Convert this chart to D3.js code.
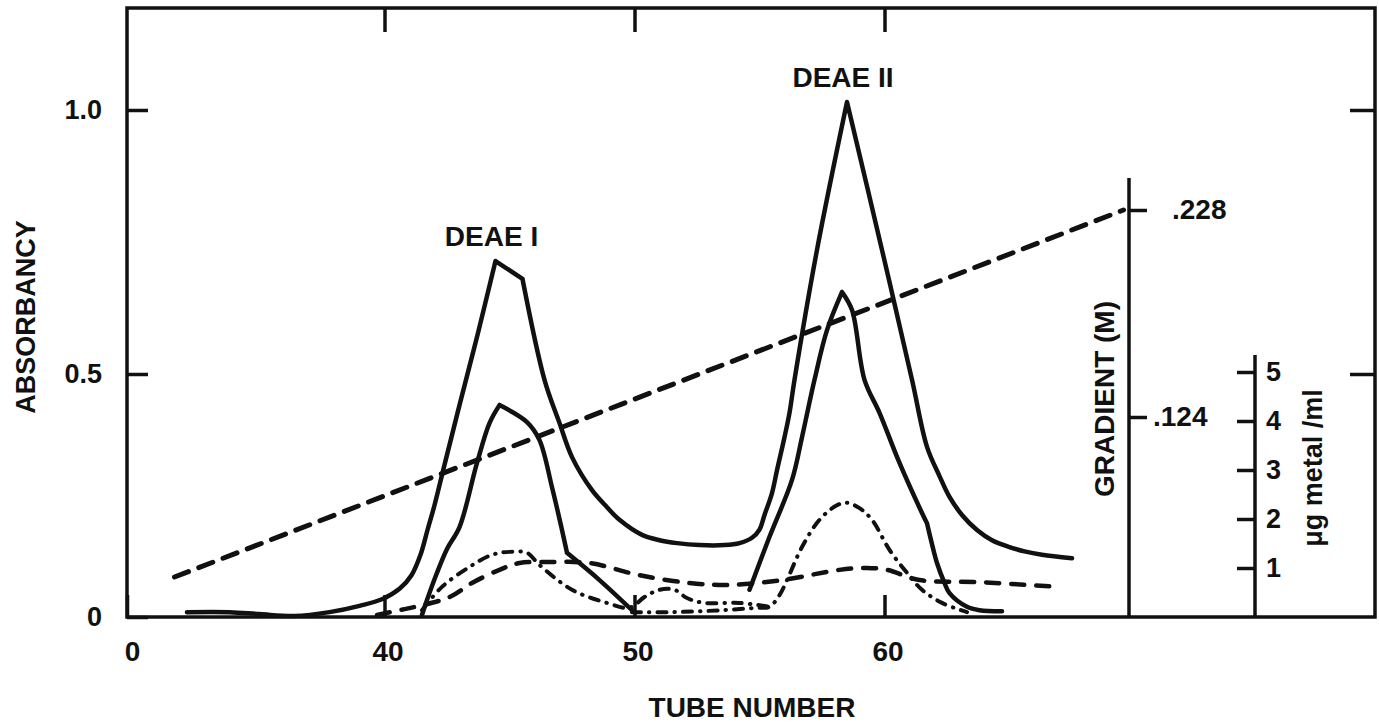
<!DOCTYPE html>
<html>
<head>
<meta charset="utf-8">
<script src="https://cdn.jsdelivr.net/npm/d3@7"></script>
<style>
  body { margin: 0; background: #fff; }
  text { font-family: "Liberation Sans", Arial, Helvetica, sans-serif; font-weight: bold; fill: #111; }
</style>
</head>
<body>
<div id="chart"></div>
<script>
const MARGIN = {left: 127, right: 4, top: 8, bottom: 108};
const WIDTH = 1379 - MARGIN.left - MARGIN.right;
const HEIGHT = 725 - MARGIN.top - MARGIN.bottom;

// broken x axis: the origin is labelled 0
const X_START = 29.7;
const xTickValues = [X_START, 40, 50, 60];
const xTickLabels = ['0', '40', '50', '60'];
const yTickValues = [0, 0.5, 1.0];
const yTickLabels = ['0', '0.5', '1.0'];
const gradientTicks = [0.124, 0.228];
const gradientTickLabels = ['.124', '.228'];
const metalTicks = [1, 2, 3, 4, 5];

// absorbancy, outer solid curve
const outerTube = [32.1, 33.8, 35.0, 36.4, 37.8, 39.0, 39.92, 40.6, 41.08, 41.44, 41.72, 42.0, 42.4, 43.0, 43.72, 44.44, 45.52,
  46.4, 47.0, 47.5, 48.3, 48.9, 49.4, 50.3, 51.0, 51.7, 52.6, 53.6, 54.2, 54.7, 55.0, 55.2, 55.5, 55.7, 56.0, 56.2, 56.4, 57.3, 58.5,
  59.9, 61.1, 61.7, 62.2, 62.6, 63.1, 63.7, 64.3, 65.0, 65.6, 66.3, 67.5];
const outerAbs = [0.010, 0.010, 0.006, 0.002, 0.010, 0.023, 0.037, 0.058, 0.086, 0.128, 0.179, 0.230, 0.313, 0.436, 0.574, 0.714, 0.680,
  0.488, 0.399, 0.329, 0.261, 0.226, 0.200, 0.169, 0.158, 0.152, 0.148, 0.148, 0.152, 0.163, 0.180, 0.210, 0.255, 0.302, 0.370, 0.420, 0.488, 0.735, 1.015,
  0.735, 0.488, 0.350, 0.290, 0.247, 0.210, 0.179, 0.158, 0.144, 0.135, 0.128, 0.121];
const outerCorners = [44.44, 45.52, 58.5];

// absorbancy, inner solid curve (two pieces)
const innerITube = [41.5, 41.7, 42.1, 42.5, 43.0, 43.7, 44.2, 44.6, 45.7, 46.2, 46.7, 47.1, 47.3, 48.6, 49.9];
const innerIAbs = [0.004, 0.035, 0.091, 0.140, 0.185, 0.317, 0.399, 0.436, 0.401, 0.364, 0.267, 0.179, 0.132, 0.076, 0.014];
const innerICorners = [44.6, 47.3];
const innerIITube = [54.6, 55.4, 56.3, 56.7, 57.2, 57.7, 58.3, 58.7, 59.2, 59.8, 60.6, 61.5, 61.7, 61.9, 62.1, 62.4, 62.6, 63.3, 63.8, 64.7];
const innerIIAbs = [0.056, 0.165, 0.282, 0.370, 0.488, 0.583, 0.655, 0.621, 0.488, 0.420, 0.317, 0.214, 0.193, 0.150, 0.111, 0.070, 0.049, 0.021, 0.014, 0.012];
const innerIICorners = [58.3, 61.7];

// metal, dashed curve
const dashTube = [39.7, 40.6, 41.4, 42.6, 43.5, 44.6, 45.4, 46.6, 48.2, 50.2, 52.2, 53.8, 55.9, 58.2, 59.3, 60.1, 61.4, 63.7, 66.9];
const dashAbs = [0.004, 0.014, 0.023, 0.041, 0.070, 0.097, 0.111, 0.113, 0.111, 0.086, 0.070, 0.066, 0.076, 0.097, 0.101, 0.097, 0.076, 0.072, 0.062];

// metal, dash-dot curves
const dotDashITube = [41.5, 42.3, 43.4, 44.3, 45.0, 45.7, 46.2, 47.5, 48.9, 49.8, 50.4, 51.0, 51.6, 52.1, 52.8, 54.2, 55.4];
const dotDashIAbs = [0.014, 0.062, 0.103, 0.128, 0.134, 0.132, 0.107, 0.056, 0.029, 0.019, 0.041, 0.056, 0.056, 0.039, 0.029, 0.029, 0.021];
const dotDashIITube = [49.9, 51.5, 53.5, 54.9, 55.4, 55.8, 56.1, 56.7, 57.4, 58.1, 58.5, 59.0, 59.5, 60.2, 60.9, 61.5, 62.3, 63.3];
const dotDashIIAbs = [0.010, 0.010, 0.014, 0.019, 0.021, 0.045, 0.076, 0.144, 0.200, 0.230, 0.235, 0.224, 0.200, 0.138, 0.091, 0.056, 0.029, 0.010];

// salt gradient (M)
const gradientTube = [31.6, 69.56];
const gradientMolar = [0.0436, 0.228];

const peakLabels = ['DEAE I', 'DEAE II'];
const peakTubes = [44.44, 58.5];
const peakAbs = [0.714, 1.015];

const svg = d3.select('#chart').append('svg')
  .attr('width', WIDTH + MARGIN.left + MARGIN.right)
  .attr('height', HEIGHT + MARGIN.top + MARGIN.bottom);

const g = svg.append('g')
  .attr('transform', `translate(${MARGIN.left},${MARGIN.top})`);

const x = d3.scaleLinear().domain([X_START, X_START + WIDTH / 25]).range([0, WIDTH]);
// hand drawn axis, the 0.5 mark is not half way
const y = d3.scaleLinear().domain([0, 0.5, 1]).range([HEIGHT, 366, 102]);
const yGrad = d3.scaleLinear().domain([0.124, 0.228]).range([409, 202]);
const yMetal = d3.scaleLinear().domain([0, 5]).range([HEIGHT, 364]);

const GRAD_X = 1002;
const METAL_X = 1128;

function styleAxis(sel, size) {
  sel.select('.domain').remove();
  sel.selectAll('line').attr('stroke', '#111').attr('stroke-width', 3.5);
  sel.selectAll('text')
    .attr('font-size', size)
    .attr('font-family', '"Liberation Sans", Arial, Helvetica, sans-serif')
    .attr('font-weight', 'bold')
    .attr('fill', '#111');
}

// bottom axis
g.append('g')
  .attr('transform', `translate(0,${HEIGHT})`)
  .call(d3.axisBottom(x).tickValues(xTickValues).tickFormat((d, i) => xTickLabels[i])
    .tickSizeInner(-22).tickSizeOuter(0).tickPadding(24))
  .call(sel => styleAxis(sel, 28))
  .selectAll('text').attr('dx', d => d === X_START ? 5 : 3);

// top ticks
g.append('g')
  .call(d3.axisTop(x).tickValues(xTickValues.slice(1)).tickFormat('')
    .tickSizeInner(-24).tickSizeOuter(0))
  .call(sel => styleAxis(sel, 28));

// left axis
g.append('g')
  .call(d3.axisLeft(y).tickValues(yTickValues).tickFormat((d, i) => yTickLabels[i])
    .tickSizeInner(-21).tickSizeOuter(0).tickPadding(25))
  .call(sel => styleAxis(sel, 27));

// right ticks
g.append('g')
  .attr('transform', `translate(${WIDTH},0)`)
  .call(d3.axisRight(y).tickValues([0.5, 1.0]).tickFormat('')
    .tickSizeInner(-25).tickSizeOuter(0))
  .call(sel => styleAxis(sel, 27));

// frame
g.append('rect')
  .attr('width', WIDTH).attr('height', HEIGHT)
  .attr('fill', 'none').attr('stroke', '#111').attr('stroke-width', 3.5);

// gradient axis
g.append('line')
  .attr('x1', GRAD_X).attr('x2', GRAD_X).attr('y1', 170).attr('y2', HEIGHT)
  .attr('stroke', '#111').attr('stroke-width', 3.5);
g.append('g')
  .attr('transform', `translate(${GRAD_X},0)`)
  .call(d3.axisRight(yGrad).tickValues(gradientTicks).tickFormat((d, i) => gradientTickLabels[i])
    .tickSize(18).tickPadding(25))
  .call(sel => styleAxis(sel, 28))
  .selectAll('text').attr('x', d => d === 0.124 ? 24 : 43);

// metal axis
g.append('line')
  .attr('x1', METAL_X).attr('x2', METAL_X).attr('y1', 347).attr('y2', HEIGHT)
  .attr('stroke', '#111').attr('stroke-width', 3.5);
g.append('g')
  .attr('transform', `translate(${METAL_X},0)`)
  .call(d3.axisLeft(yMetal).tickValues(metalTicks).tickFormat(d3.format('d')).tickSize(18))
  .call(sel => styleAxis(sel, 27))
  .selectAll('text').attr('x', 11).attr('text-anchor', 'start');

// curves
const smooth = d3.line()
  .x(d => x(d[0]))
  .y(d => y(d[1]))
  .curve(d3.curveCatmullRom.alpha(0.5));

// the pen makes sharp turns at peaks: break the smooth stroke there
function pieces(points, corners) {
  const out = [];
  let cur = [];
  points.forEach(p => {
    cur.push(p);
    if (corners.includes(p[0])) { out.push(cur); cur = [p]; }
  });
  if (cur.length > 1) out.push(cur);
  return out;
}

const curves = [
  {tube: outerTube, val: outerAbs, corners: outerCorners, dash: null, w: 4.5},
  {tube: innerITube, val: innerIAbs, corners: innerICorners, dash: null, w: 4.5},
  {tube: innerIITube, val: innerIIAbs, corners: innerIICorners, dash: null, w: 4.5},
  {tube: dashTube, val: dashAbs, corners: [], dash: '13,12', w: 4.5},
  {tube: dotDashITube, val: dotDashIAbs, corners: [], dash: '9,8,0.5,8', w: 4},
  {tube: dotDashIITube, val: dotDashIIAbs, corners: [], dash: '9,8,0.5,8', w: 4}
];

curves.forEach(c => {
  g.append('path')
    .datum(pieces(d3.zip(c.tube, c.val), c.corners))
    .attr('d', d => d.map(smooth).join(''))
    .attr('fill', 'none')
    .attr('stroke', '#111')
    .attr('stroke-width', c.w)
    .attr('stroke-linecap', 'round')
    .attr('stroke-linejoin', 'round')
    .attr('stroke-dasharray', c.dash);
});

// gradient line
g.append('path')
  .datum(d3.zip(gradientTube, gradientMolar))
  .attr('d', d3.line().x(d => x(d[0])).y(d => yGrad(d[1])))
  .attr('fill', 'none')
  .attr('stroke', '#111')
  .attr('stroke-width', 5)
  .attr('stroke-linecap', 'round')
  .attr('stroke-dasharray', '15,11');

// peak labels
peakLabels.forEach((label, i) => {
  g.append('text')
    .attr('x', x(peakTubes[i]) - 4)
    .attr('y', y(peakAbs[i]) - 15)
    .attr('text-anchor', 'middle')
    .attr('font-size', '28px')
    .text(label);
});

// axis titles
svg.append('text')
  .attr('transform', 'translate(35,317) rotate(-90)')
  .attr('text-anchor', 'middle')
  .attr('font-size', '27px')
  .text('ABSORBANCY');

svg.append('text')
  .attr('x', 752).attr('y', 717)
  .attr('text-anchor', 'middle')
  .attr('font-size', '28px')
  .text('TUBE NUMBER');

svg.append('text')
  .attr('transform', 'translate(1114,399) rotate(-90)')
  .attr('text-anchor', 'middle')
  .attr('font-size', '28px')
  .text('GRADIENT (M)');

svg.append('text')
  .attr('transform', 'translate(1322,468) rotate(-90)')
  .attr('text-anchor', 'middle')
  .attr('font-size', '27px')
  .text('μg metal /ml');
</script>
</body>
</html>
